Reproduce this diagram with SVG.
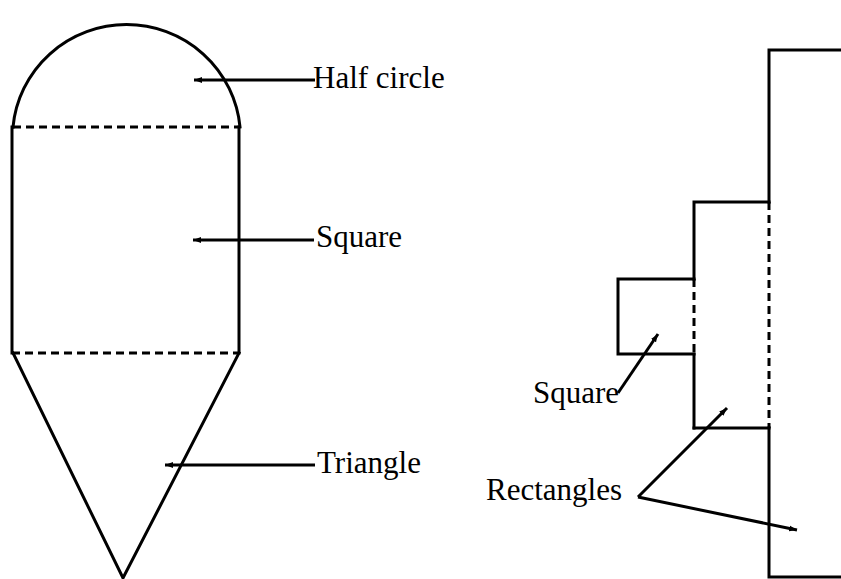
<svg xmlns="http://www.w3.org/2000/svg" width="841" height="579" viewBox="0 0 841 579">
<defs>
<style>
.s{fill:none;stroke:#000;stroke-width:3;stroke-linecap:square}
.d{fill:none;stroke:#000;stroke-width:3;stroke-dasharray:8 5}
.a{fill:none;stroke:#000;stroke-width:3;marker-end:url(#ah)}
.t{font-family:"Liberation Serif","Times New Roman",serif;font-size:31px;fill:#000}
</style>
<marker id="ah" markerUnits="userSpaceOnUse" markerWidth="10" markerHeight="8" refX="8" refY="4" orient="auto">
<path d="M0,1 L8,4 L0,7 Z" fill="#000"/>
</marker>
</defs>
<rect width="841" height="579" fill="#fff"/>
<g id="half-circle">
<path class="s" d="M13,127 A114,113 0 0 1 240,127"/>
<line class="d" x1="13" y1="127" x2="240" y2="127"/>
</g>
<g id="square-left">
<line class="s" x1="12" y1="127" x2="12" y2="353"/>
<line class="s" x1="239" y1="127" x2="239" y2="353"/>
<line class="d" x1="12" y1="353" x2="239" y2="353"/>
</g>
<g id="triangle">
<polyline class="s" points="13,353 123,578 239,353"/>
</g>
<g id="small-square">
<polyline class="s" points="694,279 618,279 618,354 694,354"/>
<line class="d" x1="694" y1="279" x2="694" y2="354"/>
</g>
<g id="middle-rectangle">
<polyline class="s" points="694,279 694,202 769,202"/>
<line class="s" x1="694" y1="354" x2="694" y2="428"/>
<line class="s" x1="694" y1="428" x2="769" y2="428"/>
<line class="d" x1="769" y1="202" x2="769" y2="428"/>
</g>
<g id="big-rectangle">
<polyline class="s" points="845,50 769,50 769,202"/>
<polyline class="s" points="769,428 769,577 845,577"/>
</g>
<g id="connectors">
<line class="a" x1="315" y1="80" x2="194" y2="80"/>
<line class="a" x1="314" y1="240" x2="193" y2="240"/>
<line class="a" x1="315" y1="465" x2="165" y2="465"/>
<line class="a" x1="618" y1="393" x2="658" y2="334"/>
<line class="a" x1="638" y1="497" x2="727" y2="408"/>
<line class="a" x1="638" y1="497" x2="797" y2="530"/>
</g>
<g id="labels">
<text class="t" x="313" y="88">Half circle</text>
<text class="t" x="316" y="247">Square</text>
<text class="t" x="317" y="473">Triangle</text>
<text class="t" x="533" y="403">Square</text>
<text class="t" x="486" y="500">Rectangles</text>
</g>
</svg>
